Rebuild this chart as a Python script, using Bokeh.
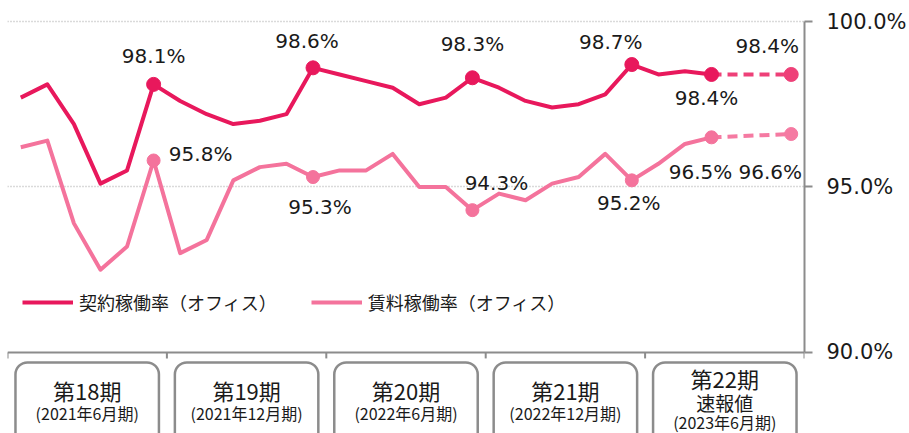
from bokeh.plotting import figure
from bokeh.models import (Range1d, FixedTicker, PrintfTickFormatter, Legend, LegendItem,
                          ColumnDataSource, LabelSet)
from bokeh.core.properties import value
from bokeh.embed import file_html
from bokeh.resources import INLINE

# ---------------- data ----------------
months = list(range(27))  # Jan 2021 .. Mar 2023 (monthly index)
contract = [97.7, 98.1, 96.9, 95.1, 95.5, 98.1, 97.6, 97.2, 96.9, 97.0, 97.2, 98.6,
            98.4, 98.2, 98.0, 97.5, 97.7, 98.3, 98.0, 97.6, 97.4, 97.5, 97.8, 98.7,
            98.4, 98.5, 98.4]
rent = [96.2, 96.4, 93.9, 92.5, 93.2, 95.8, 93.0, 93.4, 95.2, 95.6, 95.7, 95.3,
        95.5, 95.5, 96.0, 95.0, 95.0, 94.3, 94.8, 94.6, 95.1, 95.3, 96.0, 95.2,
        95.7, 96.3, 96.5]
forecast_month = 29          # Jun 2023 (preliminary)
contract_forecast = 98.4
rent_forecast = 96.6
marked_months = [5, 11, 17, 23, 26]

periods = ["第18期", "第19期", "第20期", "第21期", "第22期"]
period_sub = ["(2021年6月期)", "(2021年12月期)", "(2022年6月期)", "(2022年12月期)", "(2023年6月期)"]
prelim_label = "速報値"
series_names = ["契約稼働率（オフィス）", "賃料稼働率（オフィス）"]
y_ticks = [90, 95, 100]

# ---------------- style ----------------
DARK = "#E8185C"
DARK_FC = "#EE4078"
LIGHT = "#F4739C"
LIGHT_FC = "#F57AA2"
GRAY = "#8c8c8c"
TXT = "#1a1a1a"
NUM_FONT = "DejaVu Sans"
JP_FONT = "Noto Sans CJK JP"
PX_PER_UNIT = 33.07  # vertical px per 1%

p = figure(width=909, height=433,
           x_range=Range1d(-0.5, 29.5), y_range=Range1d(87.55, 100.635),
           output_backend="svg", toolbar_location=None,
           y_axis_location="right", x_axis_location=None,
           min_border_left=7, min_border_top=0, min_border_bottom=0, min_border_right=105,
           outline_line_color=None, background_fill_color="white")

ax = p.yaxis[0]
ax.ticker = FixedTicker(ticks=y_ticks)
ax.bounds = (y_ticks[0], y_ticks[-1])
ax.formatter = PrintfTickFormatter(format="%.1f%%")
ax.axis_line_color = GRAY
ax.axis_line_width = 2
ax.major_tick_line_color = GRAY
ax.major_tick_line_width = 2
ax.major_tick_out = 8
ax.major_tick_in = 0
ax.minor_tick_out = 0
ax.minor_tick_in = 0
ax.major_label_text_font = NUM_FONT
ax.major_label_text_font_size = "21px"
ax.major_label_text_color = TXT
ax.major_label_standoff = 14

p.xgrid.visible = False
p.ygrid[0].ticker = FixedTicker(ticks=y_ticks[1:])
p.ygrid.grid_line_color = "#b4b4b4"
p.ygrid.grid_line_dash = "1 2"
p.ygrid.grid_line_width = 1.5

# bottom axis line & period separators
n_per = len(periods)
bounds = [-0.5 + 6 * k for k in range(n_per + 1)]
p.segment(x0=[bounds[0]], x1=[bounds[-1]], y0=[y_ticks[0]], y1=[y_ticks[0]],
          line_color=GRAY, line_width=2)
tick_len = 6 / PX_PER_UNIT
p.segment(x0=bounds, x1=bounds, y0=[y_ticks[0]] * len(bounds),
          y1=[y_ticks[0] - tick_len] * len(bounds), line_color=GRAY, line_width=2)

# period boxes
centers = [2.5 + 6 * k for k in range(n_per)]
half_w = 2.7
box_top = y_ticks[0] - 10 / PX_PER_UNIT
p.quad(left=[c - half_w for c in centers], right=[c + half_w for c in centers],
       top=[box_top] * n_per, bottom=[86.0] * n_per,
       fill_color="white", line_color=GRAY, line_width=2.5, border_radius=12)

main_y = [38, 38, 38, 38, 26]
sub_y = [61, 61, 61, 61, 70]
p.text(x=centers, y=[y_ticks[0]] * n_per, text=periods, y_offset=main_y,
       text_align="center", text_baseline="middle", text_font=value(JP_FONT),
       text_font_size="22px", text_color=TXT)
p.text(x=centers, y=[y_ticks[0]] * n_per, text=period_sub, y_offset=sub_y,
       text_align="center", text_baseline="middle", text_font=value(JP_FONT),
       text_font_size="16px", text_color=TXT)
p.text(x=[centers[-1]], y=[y_ticks[0]], text=[prelim_label], y_offset=[50],
       text_align="center", text_baseline="middle", text_font=value(JP_FONT),
       text_font_size="19px", text_color=TXT)

# lines
r_dark = p.line(months, contract, line_color=DARK, line_width=4, line_join="round")
r_light = p.line(months, rent, line_color=LIGHT, line_width=4, line_join="round")
p.line([months[-1], forecast_month], [contract[-1], contract_forecast],
       line_color=DARK_FC, line_width=4, line_dash="10 6")
p.line([months[-1], forecast_month], [rent[-1], rent_forecast],
       line_color=LIGHT_FC, line_width=4, line_dash="10 6")

# markers
p.scatter(marked_months, [contract[m] for m in marked_months], size=14, color=DARK)
p.scatter(marked_months, [rent[m] for m in marked_months], size=13, color=LIGHT)
p.scatter([forecast_month], [contract_forecast], size=14, color=DARK_FC)
p.scatter([forecast_month], [rent_forecast], size=13, color=LIGHT_FC)

# value labels
lab_x = marked_months + [forecast_month] + marked_months + [forecast_month]
lab_y = [contract[m] for m in marked_months] + [contract_forecast] + \
        [rent[m] for m in marked_months] + [rent_forecast]
lab_text = ["%.1f%%" % v for v in lab_y]
dx = [0, -6, 0, -21, -5, -24, 47, 7, 24, -3, -11, -21]
dy = [28, 27, 34, 23, -24, 28, 6, -30, 27, -23, -35, -38]
src = ColumnDataSource(dict(x=lab_x, y=lab_y, text=lab_text, dx=dx, dy=dy))
labels = LabelSet(x="x", y="y", text="text", x_offset="dx", y_offset="dy", source=src,
                  text_align="center", text_baseline="middle", text_font=value(NUM_FONT),
                  text_font_size=value("20px"), text_color=value(TXT))
p.add_layout(labels)

legend = Legend(items=[LegendItem(label=series_names[0], renderers=[r_dark]),
                       LegendItem(label=series_names[1], renderers=[r_light])],
                orientation="horizontal", location=(15, 118),
                glyph_width=51, glyph_height=20, label_standoff=6, spacing=34,
                padding=0, margin=0, background_fill_alpha=0, border_line_alpha=0,
                label_text_font=JP_FONT, label_text_font_size="18px",
                label_text_color=TXT, label_height=20)
p.add_layout(legend)

open("out.html", "w").write(file_html(p, INLINE))
